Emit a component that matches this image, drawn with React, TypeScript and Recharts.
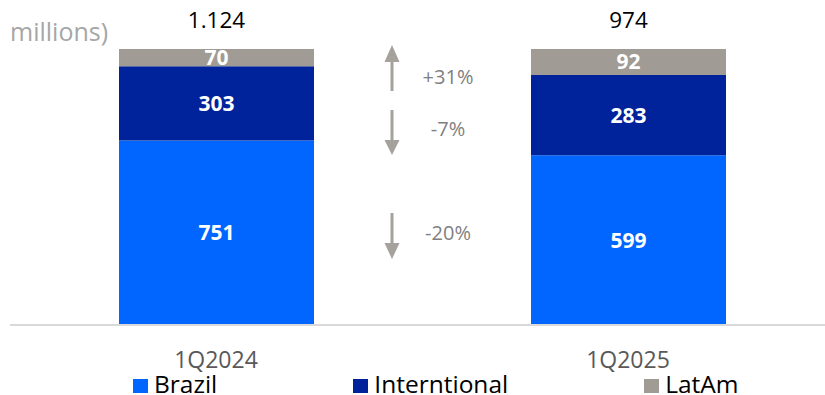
import React from "react";
import { BarChart, Bar, XAxis, YAxis, LabelList, Legend } from "recharts";

const categories = ["1Q2024", "1Q2025"];
const brazil = [751, 599];
const international = [303, 283];
const latam = [70, 92];
const changes = ["+31%", "-7%", "-20%"];
const seriesNames = ["Brazil", "Interntional", "LatAm"];
const colors = ["#0066ff", "#00229a", "#a09b95"];

const fmt = (n: number) => {
  const s = String(n);
  return s.replace(/\B(?=(\d{3})+(?!\d))/g, ".");
};

const data = categories.map((c, i) => ({
  name: c,
  brazil: brazil[i],
  international: international[i],
  latam: latam[i],
  total: brazil[i] + international[i] + latam[i],
}));

const FONT = "'Open Sans', sans-serif";

const TotalLabel = (props: any) => {
  const { x, y, width, index } = props;
  return (
    <text
      x={Number(x) + Number(width) / 2}
      y={Number(y) - 21}
      textAnchor="middle"
      fill="#000"
      fontSize={22.5}
      fontFamily={FONT}
    >
      {fmt(data[index].total)}
    </text>
  );
};

const LegendContent = () => (
  <div style={{ display: "flex", gap: 136, fontFamily: FONT, fontSize: 24.5, lineHeight: "26px", color: "#000" }}>
    {seriesNames.map((n, i) => (
      <div key={n} style={{ display: "flex", alignItems: "center" }}>
        <span style={{ display: "inline-block", width: 15, height: 14, background: colors[i], marginRight: 6, marginTop: 3 }} />
        <span style={{ whiteSpace: "nowrap" }}>{n}</span>
      </div>
    ))}
  </div>
);

const arrowSpecs = [
  { tail: 91, base: 62, tip: 45, textY: 84, textX: 448 },
  { tail: 110, base: 140, tip: 155, textY: 136, textX: 448 },
  { tail: 213, base: 243, tip: 259, textY: 240, textX: 448 },
];

const Arrows = () => (
  <svg width={825} height={395} style={{ position: "absolute", left: 0, top: 0, pointerEvents: "none" }}>
    {changes.map((c, i) => {
      const a = arrowSpecs[i];
      const ax = 392;
      return (
        <g key={c}>
          <line x1={ax} x2={ax} y1={a.tail} y2={a.base} stroke="#a5a19c" strokeWidth={3} />
          <polygon points={`${ax - 7.5},${a.base} ${ax + 7.5},${a.base} ${ax},${a.tip}`} fill="#a5a19c" />
          <text x={a.textX} y={a.textY} textAnchor="middle" fontSize={20} fill="#7f7f7f" fontFamily={FONT}>
            {c}
          </text>
        </g>
      );
    })}
  </svg>
);

export default function App() {
  const inner = { fill: "#fff", fontSize: 21, fontWeight: 700, fontFamily: FONT } as any;
  return (
    <div style={{ position: "fixed", left: 0, top: 0, width: 825, height: 395, overflow: "hidden", background: "#fff", fontFamily: FONT }}>
      <div style={{ position: "absolute", left: 10, top: 15, fontSize: 25, color: "#a6a6a6", fontFamily: FONT, lineHeight: "32px", whiteSpace: "nowrap" }}>
        millions)
      </div>
      <BarChart width={834} height={395} data={data} stackOffset="expand" margin={{ top: 49, right: 0, left: 10, bottom: 0 }}>
        <XAxis
          dataKey="name"
          height={70}
          axisLine={{ stroke: "#d9d9d9", strokeWidth: 2 }}
          tickLine={false}
          tickMargin={21}
          tick={{ fill: "#595959", fontSize: 23, fontFamily: FONT }}
        />
        <YAxis hide domain={[0, 1]} />
        <Legend
          layout="horizontal"
          verticalAlign="middle"
          align="center"
          content={<LegendContent />}
          wrapperStyle={{ left: 133, top: 371, width: "auto", height: 26 }}
        />
        <Bar dataKey="brazil" stackId="a" fill={colors[0]} barSize={195} isAnimationActive={false}>
          <LabelList dataKey="brazil" position="center" style={inner} />
        </Bar>
        <Bar dataKey="international" stackId="a" fill={colors[1]} barSize={195} isAnimationActive={false}>
          <LabelList dataKey="international" position="center" style={inner} />
        </Bar>
        <Bar dataKey="latam" stackId="a" fill={colors[2]} barSize={195} isAnimationActive={false}>
          <LabelList dataKey="latam" position="center" style={inner} />
          <LabelList dataKey="total" content={<TotalLabel />} />
        </Bar>
      </BarChart>
      <Arrows />
    </div>
  );
}
